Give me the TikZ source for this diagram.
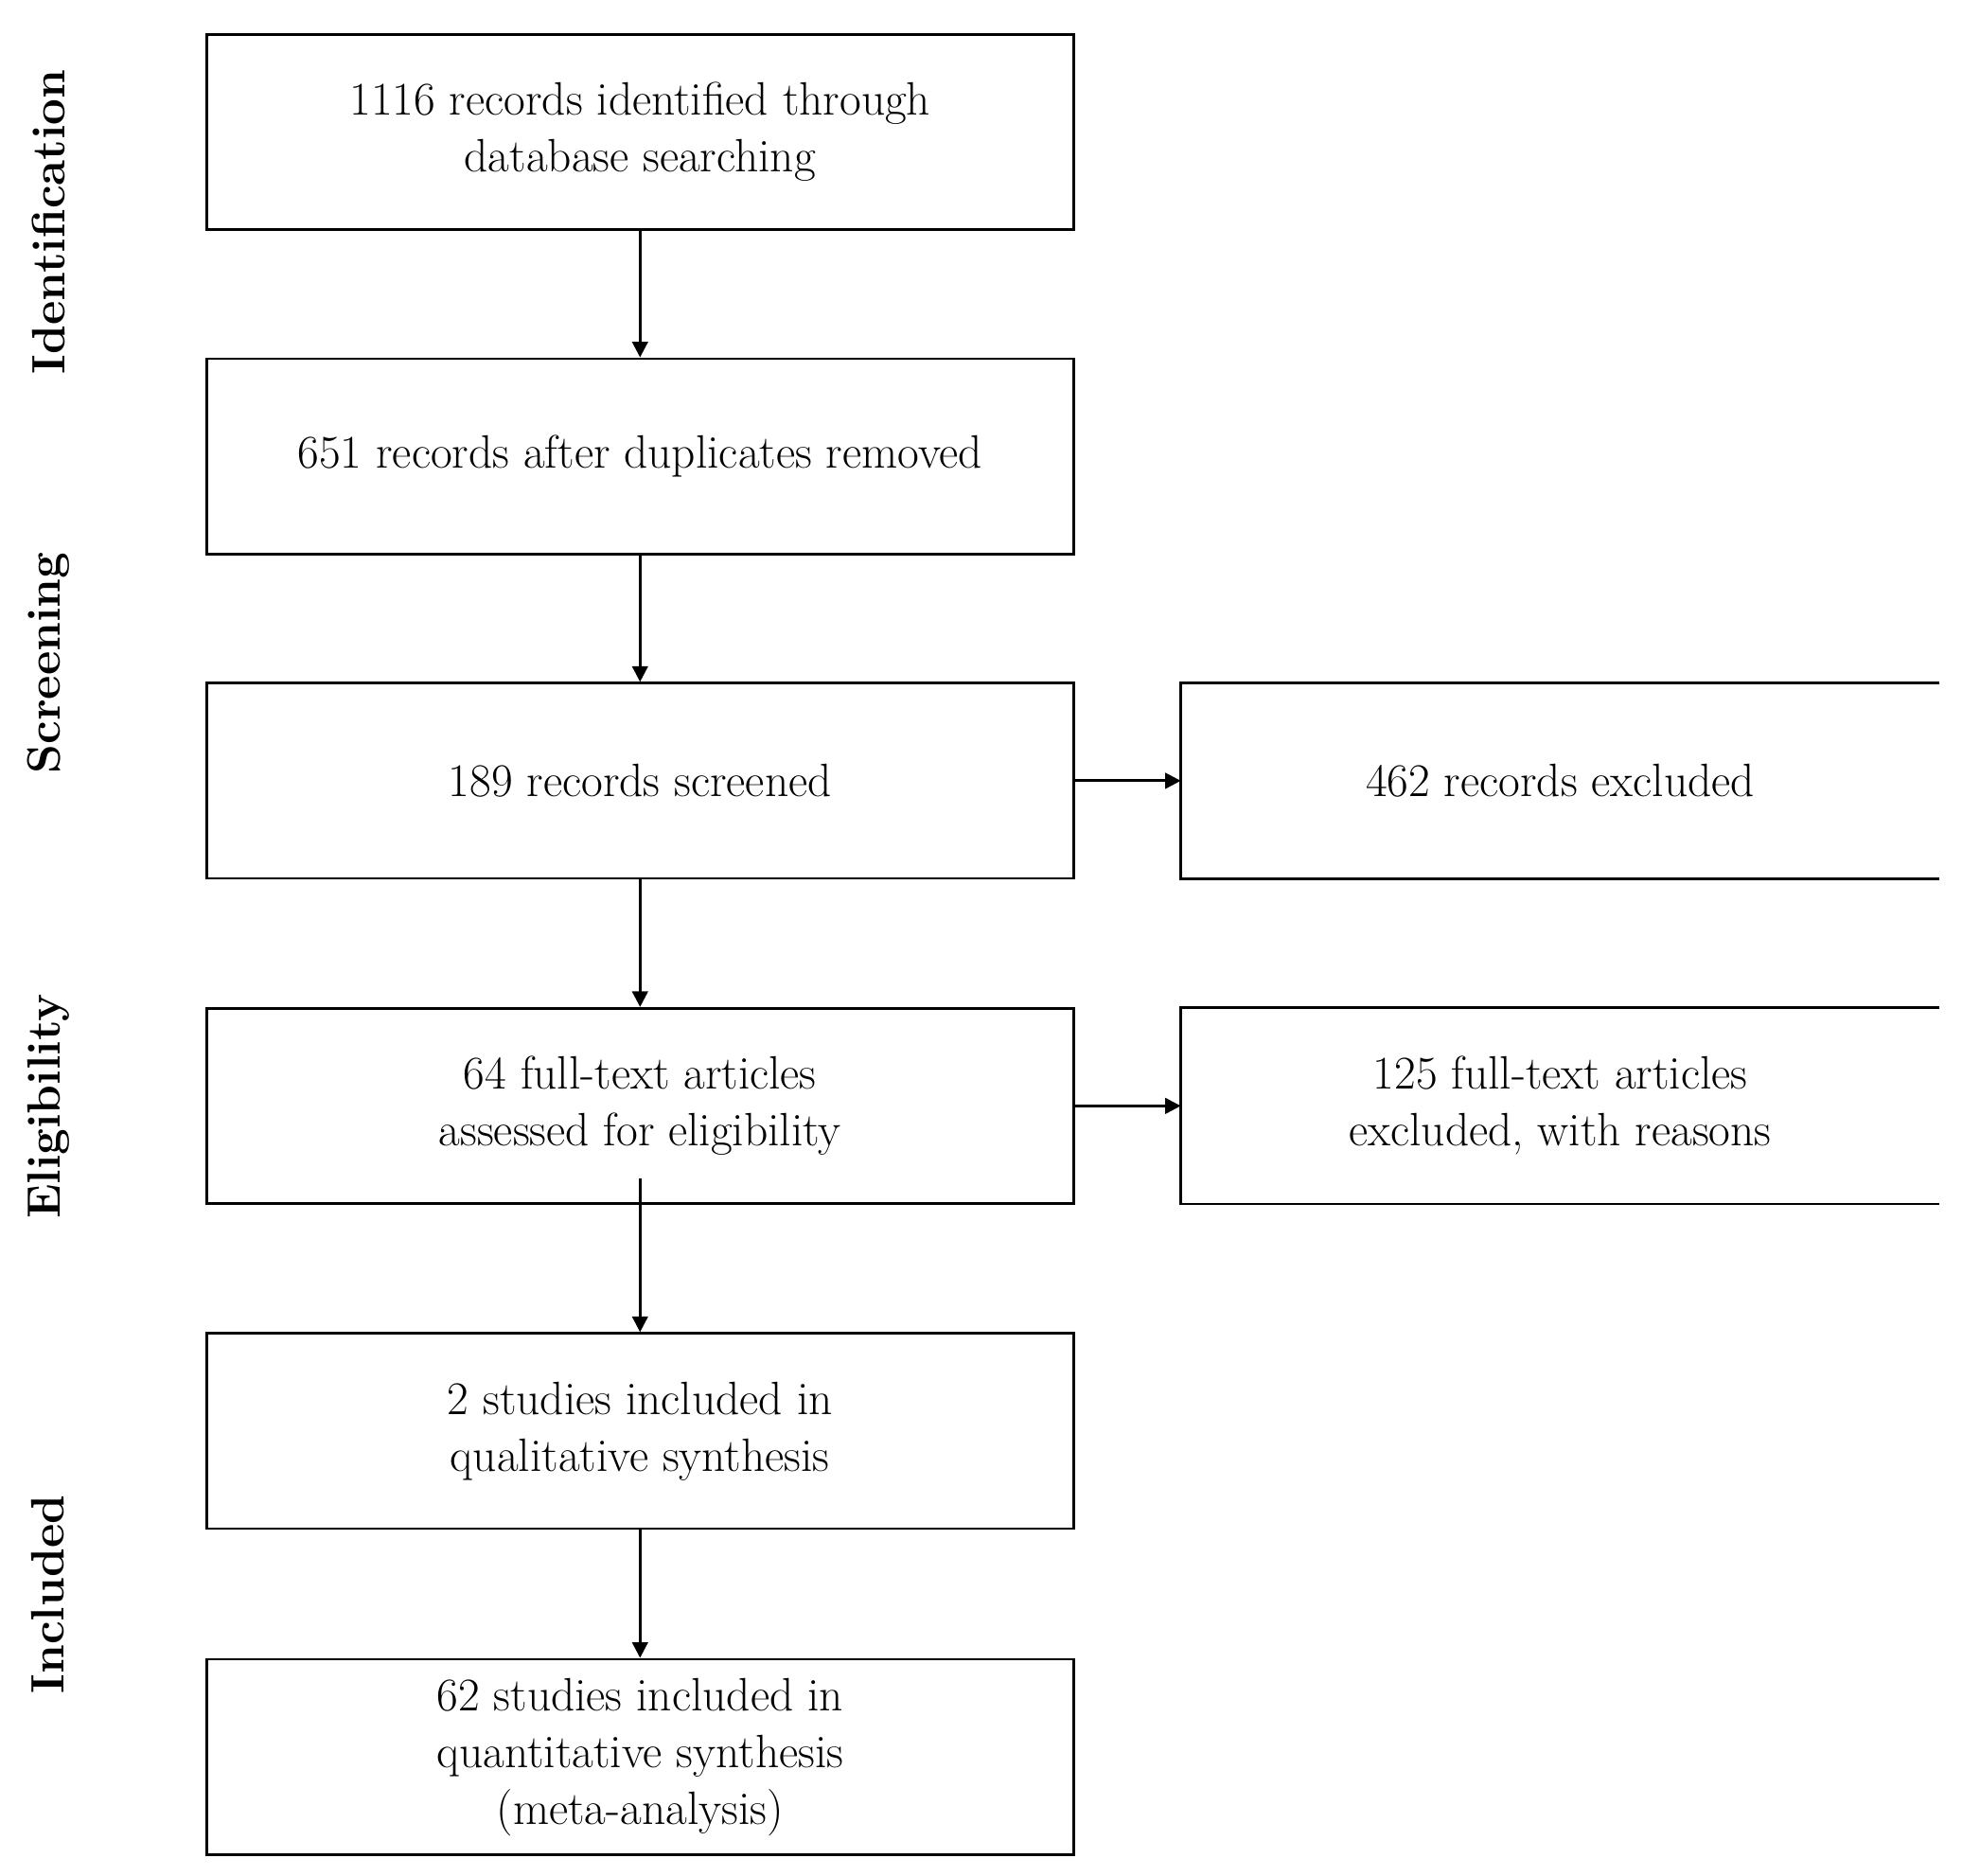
\documentclass[tikz,border=0pt]{standalone}
\usetikzlibrary{arrows.meta,positioning}
\tikzset{
  stage/.style={draw,line width=1.2pt,minimum width=13.68cm,minimum height=3.08cm,
    align=center,font=\fontsize{21}{25.5}\selectfont},
  side/.style={minimum width=11.96cm,minimum height=3.08cm,align=center,
    font=\fontsize{21}{25.5}\selectfont},
  phase/.style={rotate=90,font=\fontsize{21}{25.5}\selectfont\bfseries},
  flow/.style={line width=1.2pt,-{Triangle[length=7pt,width=7pt]}}
}
\begin{document}
\begin{tikzpicture}
  \useasboundingbox (0,0) rectangle (30.96,-29.6);
  % main column
  \node[stage] (ident) at (10.1,-2.08) {1116 records identified through\\database searching};
  \node[stage] (dupl) at (10.1,-7.2) {651 records after duplicates removed};
  \node[stage] (screen) at (10.1,-12.32) {189 records screened};
  \node[stage] (elig) at (10.1,-17.45) {64 full-text articles\\assessed for eligibility};
  \node[stage] (qual) at (10.1,-22.58) {2 studies included in\\qualitative synthesis};
  \node[stage] (quant) at (10.1,-27.72) {62 studies included in\\quantitative synthesis\\(meta-analysis)};
  % excluded column
  \node[side] (excl) at (24.62,-12.32) {462 records excluded};
  \node[side] (fexcl) at (24.62,-17.45) {125 full-text articles\\excluded, with reasons};
  \foreach \n in {excl,fexcl}
    \draw[line width=1.2pt] (\n.north east) -- (\n.north west) -- (\n.south west) -- (\n.south east);
  % phases
  \node[phase] (pid) at (0.76,-3.5) {Identification};
  \node[phase] (pscr) at (0.76,-10.46) {Screening};
  \node[phase] (pel) at (0.76,-17.46) {Eligibility};
  \node[phase] (pin) at (0.76,-25.16) {Included};
  % arrows
  \coordinate (eligout) at (10.1,-18.6);
  \draw[flow] (ident) -- (dupl);
  \draw[flow] (dupl) -- (screen);
  \draw[flow] (screen) -- (elig);
  \draw[flow] (eligout) -- (qual);
  \draw[flow] (qual) -- (quant);
  \draw[flow] (screen) -- (excl);
  \draw[flow] (elig) -- (fexcl);
\end{tikzpicture}
\end{document}
